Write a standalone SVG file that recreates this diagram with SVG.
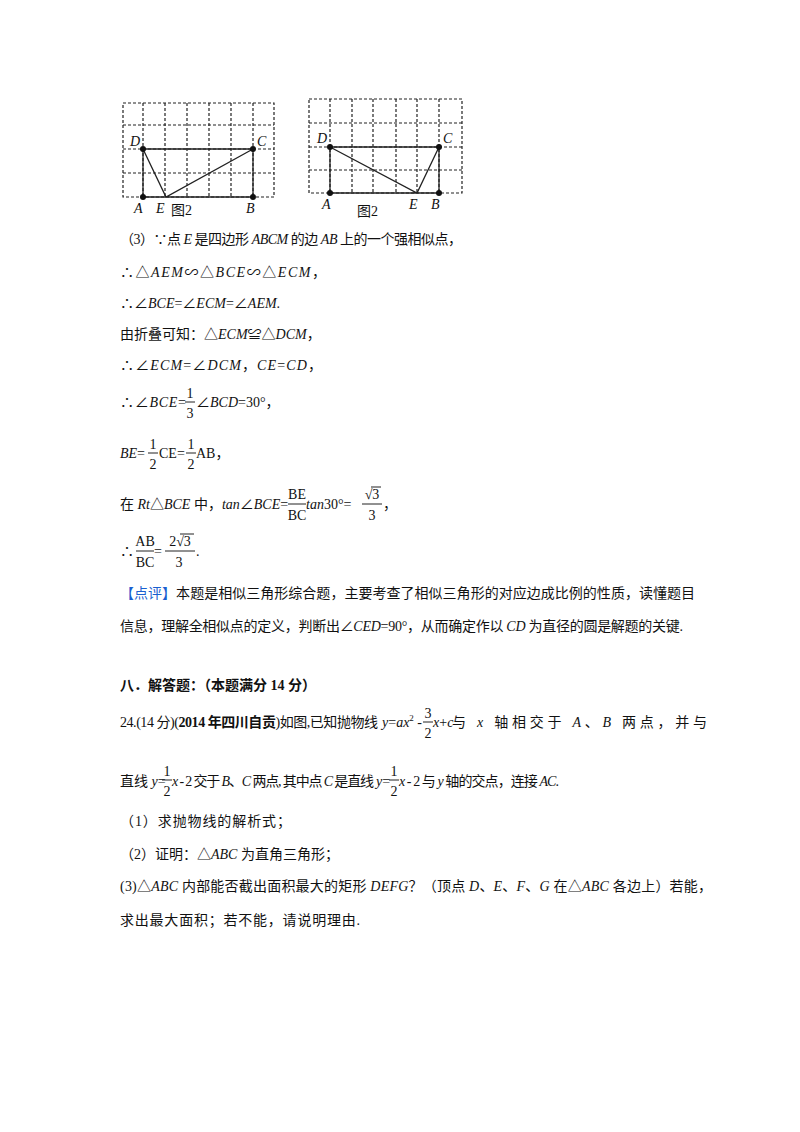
<svg xmlns="http://www.w3.org/2000/svg" width="800" height="1132" viewBox="0 0 800 1132">
<style>
text{font-family:"Liberation Serif","Noto Sans CJK SC",serif;font-size:14px;fill:#111}
.i{font-style:italic}
.g{stroke:#222;stroke-width:1.2;stroke-dasharray:3,2;fill:none}
.s{stroke:#222;stroke-width:1.3;fill:none}
.l{stroke:#222;stroke-width:1;fill:none}
.fr{font-size:14px;text-anchor:middle}
.b{font-weight:bold}
.bl{fill:#1a5fd0}
</style>
<rect width="800" height="1132" fill="#fff"/>
<g id="fig1">
<rect class="g" x="123" y="103" width="151" height="94"/>
<path class="g" d="M143 103V197M165 103V197M187 103V197M209 103V197M231 103V197M253 103V197M123 125H274M123 149H274M123 173H274"/>
<path class="s" d="M143 149H253V197H143ZM143 149L166 197L253 149"/>
<g fill="#111"><circle cx="143" cy="149" r="3"/><circle cx="253" cy="149" r="3"/><circle cx="143" cy="197" r="3"/><circle cx="253" cy="197" r="3"/></g>
<text class="i" x="130" y="146">D</text><text class="i" x="257" y="146">C</text>
<text class="i" x="134" y="213">A</text><text class="i" x="156" y="213">E</text><text x="171" y="215">图2</text><text class="i" x="246" y="213">B</text>
</g>
<g id="fig2">
<rect class="g" x="309" y="99" width="153" height="94"/>
<path class="g" d="M330 99V193M352 99V193M373 99V193M396 99V193M417 99V193M439 99V193M309 123H462M309 147H462M309 170H462"/>
<path class="s" d="M330 147H439V193H330ZM330 147L417 193L439 147"/>
<g fill="#111"><circle cx="330" cy="147" r="3"/><circle cx="439" cy="147" r="3"/><circle cx="330" cy="193" r="3"/><circle cx="439" cy="193" r="3"/></g>
<text class="i" x="317" y="143">D</text><text class="i" x="443" y="143">C</text>
<text class="i" x="322" y="209">A</text><text x="357" y="216">图2</text><text class="i" x="409" y="209">E</text><text class="i" x="431" y="209">B</text>
</g>
<g id="text">
<text x="120" y="244" textLength="342" lengthAdjust="spacing">（3）∵点 <tspan class="i">E</tspan> 是四边形 <tspan class="i">ABCM</tspan> 的边 <tspan class="i">AB</tspan> 上的一个强相似点，</text>
<text x="120" y="277" textLength="206" lengthAdjust="spacing">∴△<tspan class="i">AEM</tspan>∽△<tspan class="i">BCE</tspan>∽△<tspan class="i">ECM</tspan>，</text>
<text x="120" y="308">∴∠<tspan class="i">BCE</tspan>=∠<tspan class="i">ECM</tspan>=∠<tspan class="i">AEM</tspan>.</text>
<text x="120" y="339">由折叠可知：△<tspan class="i">ECM</tspan>≌△<tspan class="i">DCM</tspan>，</text>
<text x="120" y="370" textLength="202" lengthAdjust="spacing">∴∠<tspan class="i">ECM</tspan>=∠<tspan class="i">DCM</tspan>，<tspan class="i">CE</tspan>=<tspan class="i">CD</tspan>，</text>
<text x="120" y="407" textLength="66" lengthAdjust="spacing">∴∠<tspan class="i">BCE</tspan>=</text><text class="fr" x="190" y="398">1</text><text class="fr" x="190" y="418">3</text><path class="l" d="M185 402H195"/><text x="196" y="407">∠<tspan class="i">BCD</tspan>=30°，</text>
<text x="120" y="458"><tspan class="i">BE</tspan>=</text><text class="fr" x="153" y="449">1</text><text class="fr" x="153" y="469">2</text><path class="l" d="M148 453H158"/><text x="159" y="458">CE=</text><text class="fr" x="191" y="449">1</text><text class="fr" x="191" y="469">2</text><path class="l" d="M186 453H196"/><text x="196" y="458">AB，</text>
<text x="120" y="509">在 <tspan class="i">Rt</tspan>△<tspan class="i">BCE</tspan> 中，<tspan class="i">tan</tspan>∠<tspan class="i">BCE</tspan>=</text><text class="fr" x="297" y="499">BE</text><text class="fr" x="297" y="520">BC</text><path class="l" d="M288 504H306"/><text x="306" y="509"><tspan class="i">tan</tspan>30°=</text><text class="fr" x="372" y="499">√3</text><path class="l" d="M371 487H381"/><text class="fr" x="372" y="520">3</text><path class="l" d="M362 504H382"/><text x="383" y="509">，</text>
<text x="120" y="556">∴</text><text class="fr" x="145" y="546">AB</text><text class="fr" x="145" y="567">BC</text><path class="l" d="M136 551H154"/><text x="154" y="556">=</text><text class="fr" x="180" y="546">2√3</text><path class="l" d="M180 534H194"/><text class="fr" x="179" y="567">3</text><path class="l" d="M165 551H195"/><text x="196" y="556">.</text>
<text x="120" y="598" textLength="575" lengthAdjust="spacing"><tspan class="bl">【点评】</tspan>本题是相似三角形综合题，主要考查了相似三角形的对应边成比例的性质，读懂题目</text>
<text x="120" y="631" textLength="563" lengthAdjust="spacing">信息，理解全相似点的定义，判断出∠<tspan class="i">CED</tspan>=90°，从而确定作以 <tspan class="i">CD</tspan> 为直径的圆是解题的关键.</text>
<text x="120" y="690" class="b">八．解答题：（本题满分 14 分）</text>
<text x="120" y="727" textLength="258" lengthAdjust="spacing">24.(14 分)(<tspan class="b">2014 年四川自贡</tspan>)如图,已知抛物线</text>
<text x="382" y="727"><tspan class="i">y</tspan>=<tspan class="i">ax</tspan><tspan font-size="9" dy="-6">2</tspan><tspan dy="6"> -</tspan></text>
<text class="fr" x="428" y="718">3</text><text class="fr" x="428" y="738">2</text><path class="l" d="M423 722H433"/>
<text x="433" y="727"><tspan class="i">x</tspan>+<tspan class="i">c</tspan></text>
<text x="452" y="727" font-size="14.5" textLength="255" lengthAdjust="spacing">与 <tspan class="i">x</tspan> 轴相交于 <tspan class="i">A</tspan>、<tspan class="i">B</tspan> 两点，并与</text>
<text x="120" y="786">直线 <tspan class="i">y</tspan>=</text><text class="fr" x="167" y="776">1</text><text class="fr" x="167" y="796">2</text><path class="l" d="M162 780H172"/>
<text x="172" y="786" font-size="13" textLength="202" lengthAdjust="spacing"><tspan class="i">x</tspan> - 2 交于 <tspan class="i">B</tspan>、<tspan class="i">C</tspan> 两点, 其中点 <tspan class="i">C</tspan> 是直线</text>
<text x="376" y="786"><tspan class="i">y</tspan>=</text><text class="fr" x="394" y="776">1</text><text class="fr" x="394" y="796">2</text><path class="l" d="M389 780H399"/>
<text x="399" y="786" textLength="160" lengthAdjust="spacing"><tspan class="i">x</tspan> - 2 与 <tspan class="i">y</tspan> 轴的交点，连接 <tspan class="i">AC</tspan>.</text>
<text x="120" y="826" textLength="171" lengthAdjust="spacing">（1）求抛物线的解析式；</text>
<text x="120" y="859">（2）证明：△<tspan class="i">ABC</tspan> 为直角三角形；</text>
<text x="120" y="891" textLength="592" lengthAdjust="spacing">(3)△<tspan class="i">ABC</tspan> 内部能否截出面积最大的矩形 <tspan class="i">DEFG</tspan>？（顶点 <tspan class="i">D</tspan>、<tspan class="i">E</tspan>、<tspan class="i">F</tspan>、<tspan class="i">G</tspan> 在△<tspan class="i">ABC</tspan> 各边上）若能，</text>
<text x="120" y="925" textLength="240" lengthAdjust="spacing">求出最大面积；若不能，请说明理由.</text>
</g>
</svg>
